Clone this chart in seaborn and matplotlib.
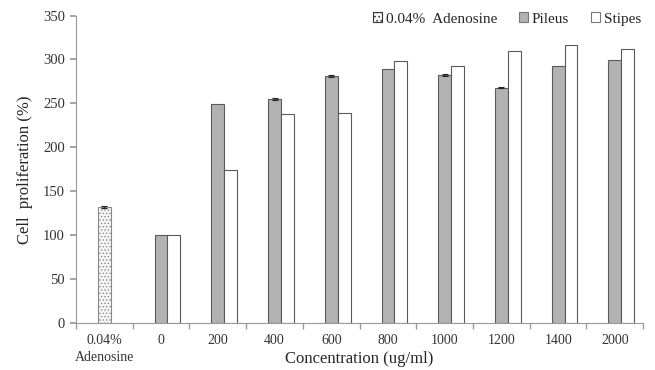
import numpy as np
import pandas as pd
import matplotlib
matplotlib.use('Agg')
import matplotlib.pyplot as plt
import matplotlib.patches as mpatches
import seaborn as sns

# ── Data ─────────────────────────────────────────────────────────────────────
categories = ['0.04%\nAdenosine', '0', '200', '400', '600', '800', '1000', '1200', '1400', '2000']
adenosine = [132]
pileus = [np.nan, 100, 249, 255, 281, 289, 282, 268, 292, 299]
stipes = [np.nan, 100, 174, 238, 239, 298, 293, 310, 316, 312]
pileus_err = [1, 0, 0, 1, 1, 0, 1, 1, 0, 0]

# the adenosine control sits in the middle slot of its own category
pileus_plot = adenosine + pileus[1:]

sns.set_theme(style='white')
plt.rcParams['font.family'] = ['Liberation Serif', 'DejaVu Serif']
plt.rcParams['hatch.color'] = '#b0b0b0'
plt.rcParams['hatch.linewidth'] = 0.6

df = pd.DataFrame({
    'Concentration': categories * 3,
    'Series': ['0.04%  Adenosine'] * 10 + ['Pileus'] * 10 + ['Stipes'] * 10,
    'Value': [np.nan] * 10 + pileus_plot + stipes,
})

fig = plt.figure(figsize=(6.55, 3.70), dpi=100)
ax = fig.add_axes([0.116, 0.127, 0.866, 0.831])

sns.barplot(data=df, x='Concentration', y='Value', hue='Series',
            order=categories, hue_order=['0.04%  Adenosine', 'Pileus', 'Stipes'],
            palette={'0.04%  Adenosine': 'white', 'Pileus': '#b2b2b2', 'Stipes': 'white'},
            width=0.68, edgecolor='#5a5a5a', linewidth=0.8, saturation=1,
            legend=False, ax=ax)

bars = [p for p in ax.patches if np.isfinite(p.get_height()) and p.get_height() > 0]
for p in bars:
    xc = p.get_x() + p.get_width() / 2
    i = int(round(xc))
    # restyle the adenosine bar (dotted fill)
    if i == 0:
        p.set_facecolor('#f7f7f7')
        p.set_hatch('.....')
        p.set_edgecolor('#888888')
    # small error caps on the pileus bars
    is_pileus = abs(xc - i) < 0.05
    if is_pileus and pileus_err[i] > 0:
        ax.errorbar(xc, p.get_height(), yerr=pileus_err[i], color='#222222',
                    capsize=2.2, elinewidth=0.6, capthick=0.8, fmt='none')

ax.set_ylim(0, 350)
ax.set_xlim(-0.5, len(categories) - 0.5)
ax.set_yticks(np.arange(0, 351, 50))
ax.set_xticks(np.arange(len(categories)))
ax.set_xticklabels(categories, fontsize=10, color='#333333', linespacing=1.35)
ax.set_xticks(np.arange(-0.5, len(categories)), minor=True)
ax.tick_params(axis='x', which='major', length=0, pad=8)
ax.tick_params(axis='x', which='minor', length=4, color='#999999', direction='out')
ax.tick_params(axis='y', length=4, color='#999999', direction='out', labelsize=10.5,
               labelcolor='#333333', pad=4)
ax.xaxis.set_ticks_position('bottom')
ax.yaxis.set_ticks_position('left')

for s in ['top', 'right']:
    ax.spines[s].set_visible(False)
for s in ['left', 'bottom']:
    ax.spines[s].set_color('#999999')
    ax.spines[s].set_linewidth(0.8)

ax.set_xlabel('Concentration (ug/ml)', fontsize=12)
ax.xaxis.set_label_coords(0.5, -0.09)
ax.set_ylabel('Cell  proliferation (%)', fontsize=12)
ax.yaxis.set_label_coords(-0.075, 0.5)

handles = [
    mpatches.Patch(facecolor='#f7f7f7', edgecolor='#333333', hatch='....', linewidth=0.8,
                   label='0.04%  Adenosine'),
    mpatches.Patch(facecolor='#b2b2b2', edgecolor='#777777', linewidth=0.8, label='Pileus'),
    mpatches.Patch(facecolor='white', edgecolor='#777777', linewidth=0.8, label='Stipes'),
]
ax.legend(handles=handles, loc='upper right', bbox_to_anchor=(1.02, 1.055), ncol=3,
          frameon=False, fontsize=11, handlelength=0.6, handleheight=0.6,
          handletextpad=0.25, columnspacing=1.4)

fig.savefig('out.png', dpi=100)
